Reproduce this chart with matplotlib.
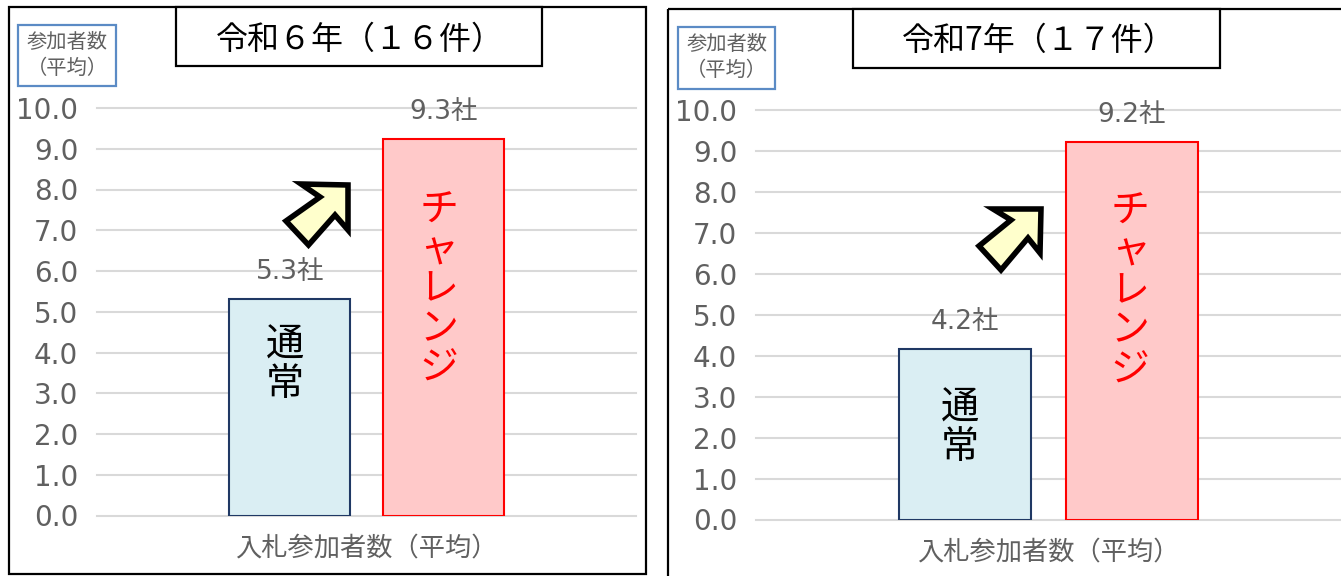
import matplotlib
matplotlib.use("Agg")
import matplotlib.pyplot as plt
from matplotlib.patches import Polygon, Rectangle

# Values
years = ["令和６年（１６件）", "令和7年（１７件）"]
normal_avg = [5.31, 4.18]
challenge_avg = [9.25, 9.23]
normal_labels = ["5.3社", "4.2社"]
challenge_labels = ["9.3社", "9.2社"]
y_ticks = [0, 1, 2, 3, 4, 5, 6, 7, 8, 9, 10]
x_label = "入札参加者数（平均）"
y_label = "参加者数\n（平均）"
normal_name = "通常"
challenge_name = "チャレンジ"

W, H = 1341, 576
GRAY = "#606060"
JP = ["Noto Sans CJK JP", "DejaVu Sans"]
NUM = ["DejaVu Sans", "Noto Sans CJK JP"]

plt.rcParams["font.family"] = JP

fig = plt.figure(figsize=(W / 100, H / 100), dpi=100, facecolor="white")


def pixel_axes(x0, y0, x1, y1):
    return fig.add_axes([x0 / W, 1 - y1 / H, (x1 - x0) / W, (y1 - y0) / H])


# Both panels share the same layout, only the pixel box differs
panels = [
    {"box": (97, 108, 636, 515.5), "normal_y": 4.66, "challenge_x": 0.47, "challenge_y": 7.98},
    {"box": (756, 110.5, 1341, 519.5), "normal_y": 3.2, "challenge_x": 0.49, "challenge_y": 8.02},
]

for i, p in enumerate(panels):
    ax = pixel_axes(*p["box"])
    ax.set_xlim(-1.755, 1.755)
    ax.set_ylim(0, 10)
    ax.set_facecolor("none")
    ax.bar(-0.5, normal_avg[i], width=0.79, color="#DAEEF3", edgecolor="#1F3864", linewidth=1.5, zorder=3)
    ax.bar(0.5, challenge_avg[i], width=0.79, color="#FFC9C9", edgecolor="#FF0000", linewidth=1.5, zorder=3)

    ax.set_yticks(y_ticks)
    ax.set_yticklabels([f"{t:.1f}" for t in y_ticks], fontsize=20, color=GRAY, family=NUM)
    ax.set_xticks([0])
    ax.set_xticklabels([x_label], fontsize=18.9, color=GRAY)
    ax.tick_params(axis="y", length=0, pad=13.5)
    ax.tick_params(axis="x", length=0, pad=13.5)
    ax.grid(axis="y", color="#D9D9D9", linewidth=1.5, zorder=0)
    ax.set_axisbelow(True)
    for gl in ax.get_ygridlines():
        gl.set_clip_on(False)
    for s in ax.spines.values():
        s.set_visible(False)

    ax.annotate(normal_labels[i], (-0.5, normal_avg[i]), xytext=(0, 27), textcoords="offset pixels",
                ha="center", va="center", fontsize=19, color=GRAY, family=NUM, zorder=5)
    ax.annotate(challenge_labels[i], (0.5, challenge_avg[i]), xytext=(0, 27), textcoords="offset pixels",
                ha="center", va="center", fontsize=19, color=GRAY, family=NUM, zorder=5)

    ax.text(-0.53, p["normal_y"], "\n".join(normal_name), ha="center", va="top", fontsize=27.5,
            color="black", linespacing=1.0, zorder=5)
    ax.text(p["challenge_x"], p["challenge_y"], "\n".join(challenge_name), ha="center", va="top", fontsize=28,
            color="#FF0000", linespacing=0.99, zorder=5)

# Frames, title boxes and arrows in pixel coordinates
over = fig.add_axes([0, 0, 1, 1], facecolor="none", zorder=10)
over.set_xlim(0, W)
over.set_ylim(H, 0)
over.axis("off")

over.add_patch(Rectangle((9.5, 7), 637, 566.5, fill=False, edgecolor="black", linewidth=1.6))
over.add_patch(Rectangle((668, 9), 690, 590, fill=False, edgecolor="black", linewidth=1.6))

title_boxes = [(176, 7, 366, 59), (853.5, 9, 366.5, 58.5)]
title_x = [360, 1039]
for i, (x, y, w, h) in enumerate(title_boxes):
    over.add_patch(Rectangle((x, y), w, h, facecolor="white", edgecolor="black", linewidth=1.6))
    over.text(title_x[i], y + h / 2 + 3, years[i], ha="center", va="center", fontsize=23, color="black")

label_boxes = [(18, 24.5, 98.5, 61.5), (678, 27, 97.5, 61.5)]
for x, y, w, h in label_boxes:
    over.add_patch(Rectangle((x, y), w, h, facecolor="white", edgecolor="#5B8BC5", linewidth=1.6))
    over.text(x + w / 2, y + h / 2, y_label, ha="center", va="center", fontsize=14.6, color=GRAY, linespacing=1.3)

arrows = [
    [(301, 184), (320, 197), (286, 221), (308.5, 245), (335, 215), (348, 230), (348, 185)],
    [(993, 209), (1011, 220), (979, 246), (1001, 270), (1028, 238), (1040, 253), (1041, 209)],
]
for pts in arrows:
    over.add_patch(Polygon(pts, closed=True, facecolor="#FFFFCC", edgecolor="black", linewidth=4, joinstyle="miter"))

fig.savefig("out.png", dpi=100)
